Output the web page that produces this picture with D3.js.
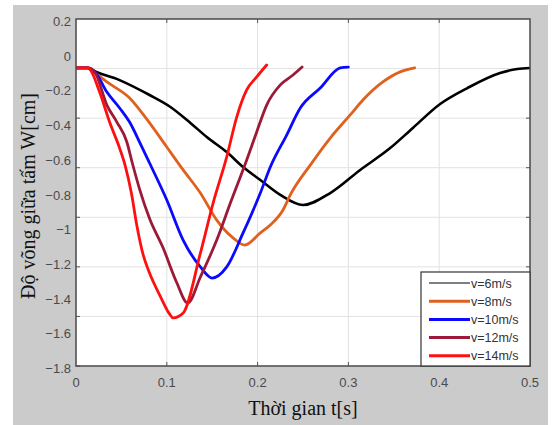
<!DOCTYPE html>
<html>
<head>
<meta charset="utf-8">
<script src="https://cdn.jsdelivr.net/npm/d3@7"></script>
<style>
  html, body { margin: 0; padding: 0; background: #ffffff; }
  svg { display: block; }
</style>
</head>
<body>
<svg id="chart" width="560" height="425"></svg>
<script>
// ---------- data (t in s, W in cm) ----------
const seriesNames = ["v=6m/s", "v=8m/s", "v=10m/s", "v=12m/s", "v=14m/s"];
const seriesColors = ["#000000", "#e0601e", "#0a0aff", "#9c1a38", "#ff1010"];

const v6 = [[0,-0.082],[0.013,-0.082],[0.015,-0.088],[0.048,-0.152],[0.081,-0.238],[0.104,-0.307],[0.126,-0.399],[0.144,-0.480],[0.166,-0.567],[0.184,-0.653],[0.203,-0.728],[0.225,-0.814],[0.250,-0.872],[0.280,-0.803],[0.313,-0.670],[0.346,-0.544],[0.371,-0.428],[0.401,-0.290],[0.431,-0.198],[0.467,-0.111],[0.486,-0.088],[0.500,-0.082]];
const v8 = [[0,-0.082],[0.013,-0.082],[0.015,-0.088],[0.034,-0.163],[0.059,-0.255],[0.081,-0.399],[0.100,-0.538],[0.118,-0.670],[0.137,-0.803],[0.155,-0.959],[0.173,-1.062],[0.186,-1.103],[0.203,-1.033],[0.214,-0.987],[0.228,-0.901],[0.236,-0.814],[0.258,-0.642],[0.280,-0.486],[0.302,-0.353],[0.316,-0.267],[0.338,-0.163],[0.357,-0.105],[0.373,-0.082]];
const v10 = [[0,-0.082],[0.013,-0.082],[0.021,-0.105],[0.034,-0.221],[0.048,-0.313],[0.059,-0.394],[0.070,-0.509],[0.081,-0.630],[0.100,-0.843],[0.118,-1.074],[0.137,-1.229],[0.150,-1.293],[0.166,-1.229],[0.184,-1.033],[0.203,-0.803],[0.214,-0.653],[0.232,-0.469],[0.247,-0.313],[0.269,-0.198],[0.291,-0.082],[0.300,-0.077]];
const v12 = [[0,-0.082],[0.013,-0.082],[0.021,-0.110],[0.034,-0.296],[0.045,-0.394],[0.056,-0.509],[0.062,-0.630],[0.070,-0.780],[0.081,-0.950],[0.096,-1.120],[0.111,-1.320],[0.123,-1.437],[0.137,-1.287],[0.155,-1.074],[0.170,-0.861],[0.188,-0.613],[0.199,-0.451],[0.210,-0.296],[0.225,-0.180],[0.239,-0.123],[0.249,-0.077]];
const v14 = [[0,-0.082],[0.013,-0.082],[0.015,-0.088],[0.026,-0.221],[0.037,-0.394],[0.048,-0.544],[0.054,-0.642],[0.061,-0.803],[0.067,-0.990],[0.074,-1.160],[0.081,-1.264],[0.093,-1.400],[0.103,-1.500],[0.107,-1.523],[0.118,-1.495],[0.137,-1.149],[0.151,-0.861],[0.166,-0.595],[0.177,-0.365],[0.188,-0.209],[0.199,-0.134],[0.210,-0.065]];
const seriesData = [v6, v8, v10, v12, v14];

const xTicks = [0, 0.1, 0.2, 0.3, 0.4, 0.5];
const yTickLabels = [0.2, 0, -0.2, -0.4, -0.6, -0.8, -1, -1.2, -1.4, -1.6, -1.8];
// grid lines of the original figure (spaced differently from the printed labels)
const gridValues = [0.2, 0, -0.2, -0.4, -0.6, -0.8, -1.0, -1.2];

const xLabel = "Thời gian t[s]";
const yLabel = "Độ võng giữa tấm W[cm]";

// ---------- layout ----------
const svg = d3.select("#chart");
const L = 76, R = 530, T = 19, B = 366;

const x = d3.scaleLinear().domain([0, 0.5]).range([L, R]);
const y = d3.scaleLinear().domain([-1.8, 0.2]).range([B, T]);
const yGrid = d3.scaleLinear().domain([-1.2, 0.2]).range([B, T]);

// grey figure background
svg.append("rect").attr("x", 13).attr("y", 5).attr("width", 535).attr("height", 420).attr("fill", "#cbcbcb");
// white plot area
svg.append("rect").attr("x", L).attr("y", T).attr("width", R - L).attr("height", B - T).attr("fill", "#ffffff");

// grid
const grid = svg.append("g").attr("stroke", "#e2e2e2").attr("stroke-width", 1);
grid.selectAll("line.gx").data(xTicks.slice(1, -1)).join("line")
  .attr("x1", d => x(d)).attr("x2", d => x(d)).attr("y1", T).attr("y2", B);
grid.selectAll("line.gy").data(gridValues.slice(1)).join("line")
  .attr("y1", d => yGrid(d)).attr("y2", d => yGrid(d)).attr("x1", L).attr("x2", R);

// small inward ticks at grid positions
const tk = svg.append("g").attr("stroke", "#555").attr("stroke-width", 1);
xTicks.slice(1, -1).forEach(d => {
  tk.append("line").attr("x1", x(d)).attr("x2", x(d)).attr("y1", B).attr("y2", B - 4);
  tk.append("line").attr("x1", x(d)).attr("x2", x(d)).attr("y1", T).attr("y2", T + 4);
});
gridValues.slice(1).forEach(d => {
  tk.append("line").attr("x1", L).attr("x2", L + 4).attr("y1", yGrid(d)).attr("y2", yGrid(d));
  tk.append("line").attr("x1", R).attr("x2", R - 4).attr("y1", yGrid(d)).attr("y2", yGrid(d));
});

// curves
svg.append("clipPath").attr("id", "pc").append("rect")
  .attr("x", L).attr("y", T).attr("width", R - L).attr("height", B - T);
const line = d3.line().x(d => x(d[0])).y(d => y(d[1])).curve(d3.curveMonotoneX);
const gLines = svg.append("g").attr("clip-path", "url(#pc)");
seriesData.forEach((s, i) => {
  gLines.append("path").datum(s)
    .attr("d", line)
    .attr("fill", "none")
    .attr("stroke", seriesColors[i])
    .attr("stroke-width", i === 0 ? 2.6 : 2.8)
    .attr("stroke-linejoin", "round")
    .attr("stroke-linecap", "round");
});

// frame
svg.append("rect").attr("x", L).attr("y", T).attr("width", R - L).attr("height", B - T)
  .attr("fill", "none").attr("stroke", "#4a4a4a").attr("stroke-width", 1.5);

// tick labels
svg.append("g").selectAll("text").data(xTicks).join("text")
  .attr("x", d => x(d)).attr("y", 387)
  .attr("text-anchor", "middle")
  .attr("font-family", "Liberation Sans, Arial, sans-serif").attr("font-size", 13)
  .attr("fill", "#4a4a4a")
  .text(d => d3.format("")(d));
svg.append("g").selectAll("text").data(yTickLabels).join("text")
  .attr("x", 71).attr("y", d => y(d) + 7)
  .attr("text-anchor", "end")
  .attr("font-family", "Liberation Sans, Arial, sans-serif").attr("font-size", 13)
  .attr("fill", "#4a4a4a")
  .text(d => d3.format("")(d));

// axis titles
svg.append("text").attr("x", 303).attr("y", 415)
  .attr("text-anchor", "middle")
  .attr("font-family", "Liberation Serif, Times New Roman, serif").attr("font-size", 20)
  .attr("fill", "#111").text(xLabel);
svg.append("text")
  .attr("transform", "translate(35,196) rotate(-90)")
  .attr("text-anchor", "middle")
  .attr("font-family", "Liberation Serif, Times New Roman, serif").attr("font-size", 20)
  .attr("fill", "#111").text(yLabel);

// legend
const lg = svg.append("g");
lg.append("rect").attr("x", 421).attr("y", 272).attr("width", 109).attr("height", 94)
  .attr("fill", "#ffffff").attr("stroke", "#333").attr("stroke-width", 1.2);
seriesNames.forEach((n, i) => {
  const yy = 283 + i * 18.2;
  lg.append("line").attr("x1", 429).attr("x2", 470).attr("y1", yy).attr("y2", yy)
    .attr("stroke", seriesColors[i]).attr("stroke-width", i === 0 ? 1.2 : 3);
  lg.append("text").attr("x", 471).attr("y", yy + 4.5)
    .attr("font-family", "Liberation Sans, Arial, sans-serif").attr("font-size", 12.5)
    .attr("fill", "#333").text(n);
});
</script>
</body>
</html>
